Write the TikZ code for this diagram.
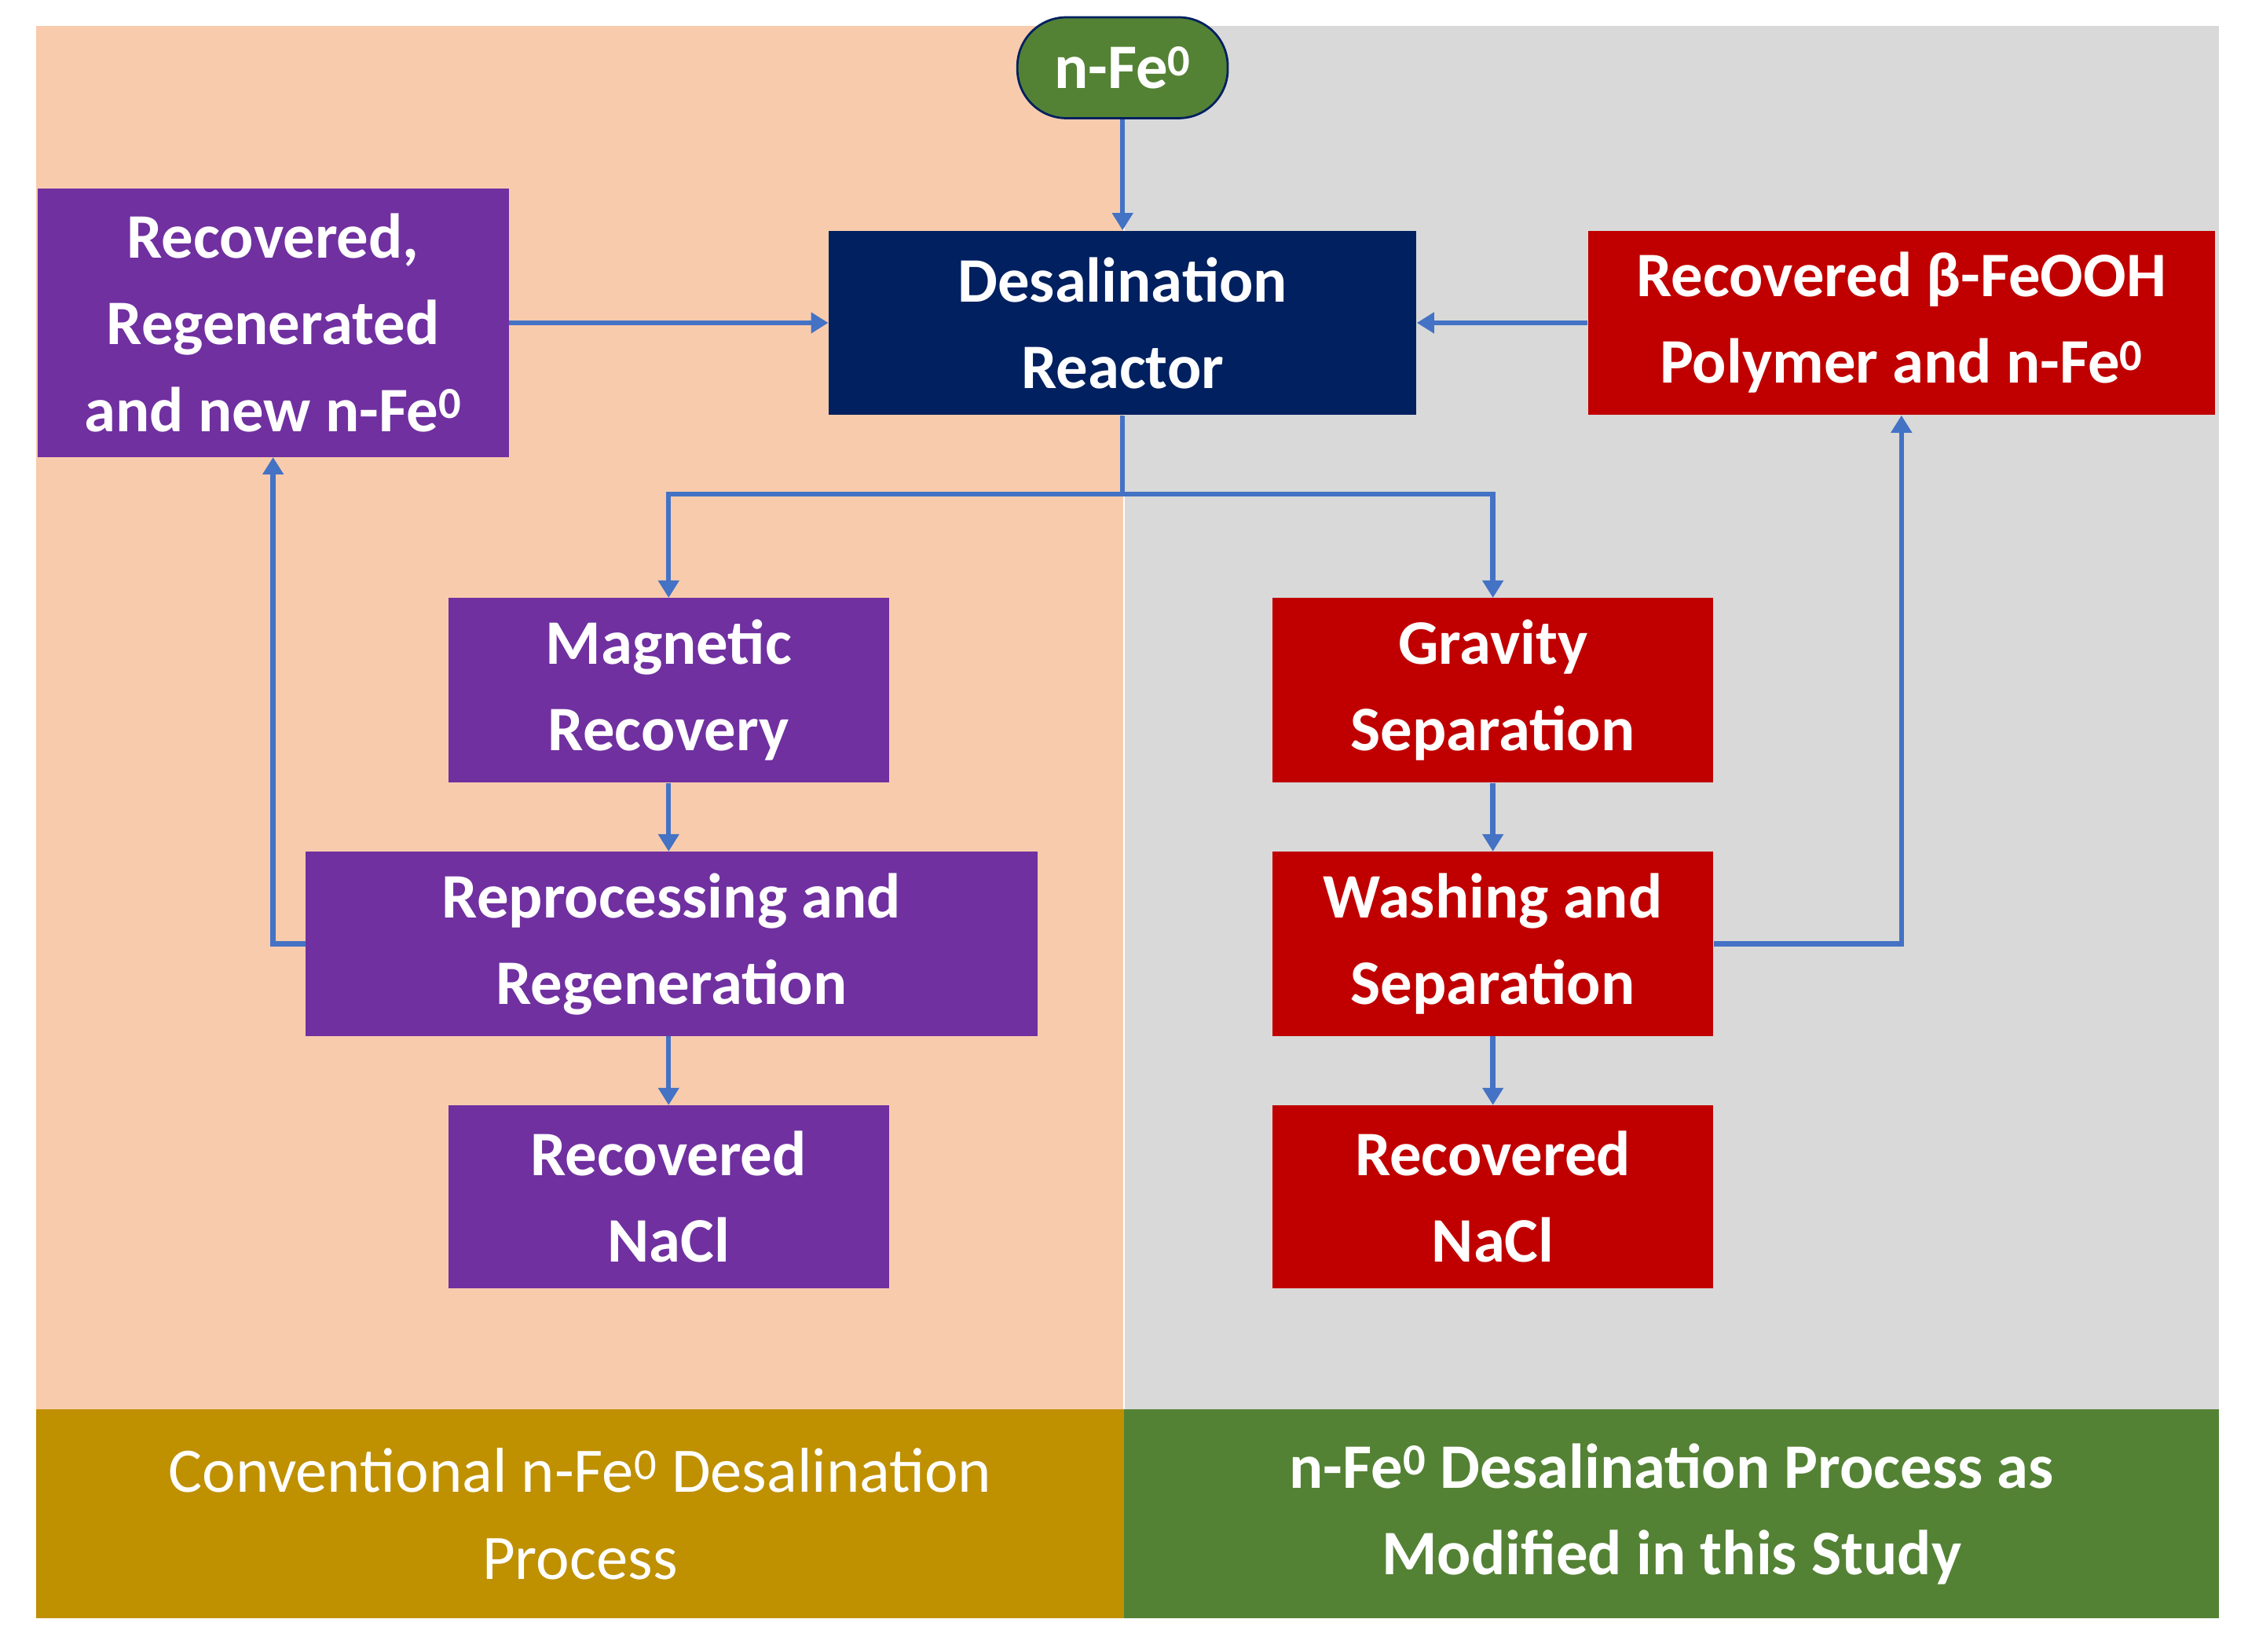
\documentclass[tikz,border=0pt]{standalone}
\usepackage{fontspec}
\setmainfont{Carlito}
\usetikzlibrary{arrows.meta}
\definecolor{peach}{HTML}{F8CBAD}
\definecolor{lgray}{HTML}{D9D9D9}
\definecolor{gold}{HTML}{BF9000}
\definecolor{dgreen}{HTML}{548235}
\definecolor{navy}{HTML}{002060}
\definecolor{purp}{HTML}{7030A0}
\definecolor{dred}{HTML}{C00000}
\definecolor{arr}{HTML}{4472C4}
\begin{document}
\begin{tikzpicture}[x=1pt,y=-1pt,
  box/.style={draw=none,text=white,font=\fontsize{44}{60}\selectfont\bfseries,align=center,inner sep=0pt},
  ar/.style={draw=arr,line width=3.5pt,-{Triangle[length=12pt,width=14pt]}},
  ln/.style={draw=arr,line width=3.5pt}]
\useasboundingbox (0,0) rectangle (1560,1146);
\fill[white] (0,0) rectangle (1560,1146);
\fill[peach] (25,18) rectangle (780,978);
\fill[lgray] (780,18) rectangle (1540,978);
\draw[white,line width=1pt] (780,18)--(780,978);
\node[box,fill=gold,minimum width=755pt,minimum height=145pt,font=\fontsize{44}{60}\selectfont] (bl) at (402.5,1050.5) {Conventional n-Fe\textsuperscript{0} Desalination\\Process};
\node[box,fill=dgreen,minimum width=760pt,minimum height=145pt] (br) at (1160,1050.5) {n-Fe\textsuperscript{0} Desalination Process as\\Modified in this Study};
\node[box,fill=dgreen,draw=navy,line width=1.5pt,rounded corners=34pt,minimum width=146pt,minimum height=70pt] (fe) at (779,47) {n-Fe\textsuperscript{0}};
\node[box,fill=navy,minimum width=408pt,minimum height=128pt] (dr) at (779,224) {Desalination\\Reactor};
\node[box,fill=purp,minimum width=327pt,minimum height=186pt] (rr) at (189.5,224) {Recovered,\\Regenerated\\and new n-Fe\textsuperscript{0}};
\node[box,fill=dred,minimum width=435pt,minimum height=128pt] (rb) at (1319.5,224) {Recovered β-FeOOH\\Polymer and n-Fe\textsuperscript{0}};
\node[box,fill=purp,minimum width=306pt,minimum height=128pt] (mr) at (464,479) {Magnetic\\Recovery};
\node[box,fill=purp,minimum width=508pt,minimum height=128pt] (rp) at (466,655) {Reprocessing and\\Regeneration};
\node[box,fill=purp,minimum width=306pt,minimum height=127pt] (nl) at (464,830.5) {Recovered\\NaCl};
\node[box,fill=dred,minimum width=306pt,minimum height=128pt] (gs) at (1036,479) {Gravity\\Separation};
\node[box,fill=dred,minimum width=306pt,minimum height=128pt] (ws) at (1036,655) {Washing and\\Separation};
\node[box,fill=dred,minimum width=306pt,minimum height=127pt] (nr) at (1036,830.5) {Recovered\\NaCl};
\coordinate (j) at (779,343);
\draw[ar] (fe.south) -- (dr.north);
\draw[ar] (rr.east |- dr.west) -- (dr.west);
\draw[ar] (rb.west) -- (dr.east);
\draw[ln] (dr.south) -- (j);
\draw[ar] (j) -| (mr.north);
\draw[ar] (j) -| (gs.north);
\draw[ar] (mr.south) -- (mr.south |- rp.north);
\draw[ar] (rp.south -| nl.north) -- (nl.north);
\draw[ar] (rp.west) -| (rr.south);
\draw[ar] (gs.south) -- (ws.north);
\draw[ar] (ws.south) -- (nr.north);
\draw[ar] (ws.east) -| (rb.south);
\end{tikzpicture}
\end{document}
